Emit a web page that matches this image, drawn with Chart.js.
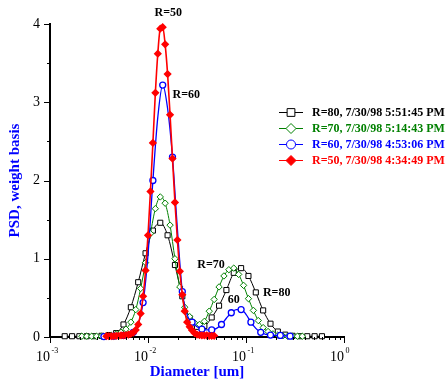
<!DOCTYPE html>
<html>
<head>
<meta charset="utf-8">
<script src="https://cdn.jsdelivr.net/npm/chart.js@4.4.0/dist/chart.umd.min.js"></script>
<style>
  html, body { margin: 0; padding: 0; background: #fff; }
</style>
</head>
<body>
<canvas id="psdChart" width="445" height="382"></canvas>
<script>
// series names, as in the legend
var seriesLabels = ['R=80, 7/30/98 5:51:45 PM', 'R=70, 7/30/98 5:14:43 PM',
                    'R=60, 7/30/98 4:53:06 PM', 'R=50, 7/30/98 4:34:49 PM'];

// R=80 (black squares)
var r80Diam = [1.413e-3, 1.679e-3, 1.995e-3, 2.371e-3, 2.818e-3, 3.350e-3, 3.981e-3, 4.732e-3, 5.623e-3,
               6.683e-3, 7.943e-3, 9.441e-3, 1.122e-2, 1.334e-2, 1.585e-2, 1.884e-2, 2.239e-2, 2.661e-2,
               3.162e-2, 3.758e-2, 4.467e-2, 5.309e-2, 6.310e-2, 7.499e-2, 8.913e-2, 0.1059, 0.1259,
               0.1496, 0.1778, 0.2113, 0.2512, 0.2985, 0.3548, 0.4217, 0.5012, 0.5957];
var r80Psd = [0.01, 0.01, 0.01, 0.01, 0.01, 0.015, 0.025, 0.05, 0.16,
              0.38, 0.70, 1.07, 1.36, 1.46, 1.30, 0.92, 0.52, 0.24,
              0.13, 0.14, 0.25, 0.40, 0.60, 0.82, 0.88, 0.78, 0.57,
              0.34, 0.17, 0.07, 0.03, 0.015, 0.01, 0.01, 0.01, 0.01];

// R=70 (green diamonds)
var r70Diam = [2.113e-3, 2.371e-3, 2.661e-3, 2.985e-3, 3.350e-3, 3.758e-3, 4.217e-3, 4.732e-3, 5.309e-3,
               5.957e-3, 6.683e-3, 7.499e-3, 8.414e-3, 9.441e-3, 1.059e-2, 1.189e-2, 1.334e-2, 1.496e-2,
               1.679e-2, 1.884e-2, 2.113e-2, 2.371e-2, 2.661e-2, 2.985e-2, 3.350e-2, 3.758e-2, 4.217e-2,
               4.732e-2, 5.309e-2, 5.957e-2, 6.683e-2, 7.499e-2, 8.414e-2, 9.441e-2, 0.1059, 0.1189,
               0.1334, 0.1496, 0.1679, 0.1884, 0.2113, 0.2371, 0.2661, 0.2985, 0.3350, 0.3758];
var r70Psd = [0.01, 0.01, 0.01, 0.01, 0.01, 0.015, 0.02, 0.04, 0.06,
              0.10, 0.19, 0.35, 0.62, 0.95, 1.32, 1.64, 1.79, 1.71,
              1.43, 1.00, 0.64, 0.38, 0.26, 0.18, 0.16, 0.20, 0.33,
              0.48, 0.64, 0.78, 0.86, 0.88, 0.80, 0.66, 0.49, 0.34,
              0.21, 0.12, 0.07, 0.04, 0.025, 0.015, 0.01, 0.01, 0.01, 0.01];

// R=60 (blue circles, marker on every second point)
var r60Diam = [3.548e-3, 3.981e-3, 4.467e-3, 5.012e-3, 5.623e-3, 6.310e-3, 7.079e-3, 7.943e-3, 8.913e-3,
               1.000e-2, 1.122e-2, 1.259e-2, 1.413e-2, 1.585e-2, 1.778e-2, 1.995e-2, 2.239e-2, 2.512e-2,
               2.818e-2, 3.162e-2, 3.548e-2, 3.981e-2, 4.467e-2, 5.012e-2, 5.623e-2, 6.310e-2, 7.079e-2,
               7.943e-2, 8.913e-2, 0.1000, 0.1122, 0.1259, 0.1413, 0.1585, 0.1778, 0.1995, 0.2239,
               0.2512, 0.2818];
var r60Psd = [0.005, 0.01, 0.01, 0.015, 0.02, 0.03, 0.06, 0.16, 0.44,
              1.05, 2.00, 2.81, 3.22, 2.92, 2.30, 1.38, 0.58, 0.28,
              0.19, 0.13, 0.10, 0.09, 0.09, 0.11, 0.16, 0.24, 0.31,
              0.35, 0.35, 0.29, 0.19, 0.11, 0.06, 0.035, 0.025, 0.02, 0.02,
              0.015, 0.01];

// R=50 (red filled markers)
var r50Diam = [3.758e-3, 3.981e-3, 4.217e-3, 4.467e-3, 4.732e-3, 5.012e-3, 5.309e-3, 5.623e-3, 5.957e-3,
               6.310e-3, 6.683e-3, 7.079e-3, 7.499e-3, 7.943e-3, 8.414e-3, 8.913e-3, 9.441e-3, 1.000e-2,
               1.059e-2, 1.122e-2, 1.189e-2, 1.259e-2, 1.334e-2, 1.413e-2, 1.496e-2, 1.585e-2, 1.679e-2,
               1.778e-2, 1.884e-2, 1.995e-2, 2.114e-2, 2.239e-2, 2.371e-2, 2.512e-2, 2.661e-2, 2.818e-2,
               2.985e-2, 3.162e-2, 3.350e-2, 3.548e-2, 3.758e-2, 3.981e-2, 4.217e-2, 4.467e-2, 4.732e-2];
var r50Psd = [0.01, 0.01, 0.01, 0.01, 0.015, 0.015, 0.02, 0.02, 0.025,
              0.03, 0.04, 0.055, 0.09, 0.16, 0.30, 0.52, 0.85, 1.30,
              1.86, 2.48, 3.12, 3.62, 3.94, 3.96, 3.74, 3.36, 2.84,
              2.28, 1.72, 1.24, 0.84, 0.54, 0.33, 0.19, 0.13, 0.085,
              0.05, 0.03, 0.025, 0.02, 0.02, 0.02, 0.015, 0.015, 0.015];

// axis ticks
var xTicks = [0.001, 0.01, 0.1, 1];
var xTickExps = ['-3', '-2', '-1', '0'];
var yTicks = [0, 1, 2, 3, 4];

// text labels placed on the plot (diameter, psd)
var noteText = ['R=50', 'R=60', 'R=70', '60', 'R=80'];
var noteDiam = [0.0161, 0.0246, 0.0439, 0.0752, 0.2056];
var notePsd = [4.14, 3.10, 0.92, 0.47, 0.56];

var serif = '"Liberation Serif", "Times New Roman", serif';
Chart.defaults.font.family = serif;

function pts(d, v) {
    return d.map(function (x, i) { return { x: x, y: v[i] }; });
}

var plotDecor = {
    id: 'plotDecor',
    afterDraw: function (chart) {
        var ctx = chart.ctx, xs = chart.scales.x, ys = chart.scales.y, a = chart.chartArea;
        ctx.save();
        ctx.strokeStyle = '#000';
        ctx.lineWidth = 1;
        // y tick marks, majors on the labelled values, minors half way
        for (var v = yTicks[0]; v <= yTicks[yTicks.length - 1]; v += 0.5) {
            var py = Math.round(ys.getPixelForValue(v)) + 0.5;
            var len = yTicks.indexOf(v) >= 0 ? 6 : 3;
            ctx.beginPath(); ctx.moveTo(a.left - len, py); ctx.lineTo(a.left, py); ctx.stroke();
        }
        // x tick marks on the log axis
        for (var i = 0; i < xTicks.length; i++) {
            for (var m = 1; m <= 9; m++) {
                if (m > 1 && i === xTicks.length - 1) break;
                var px = Math.round(xs.getPixelForValue(xTicks[i] * m)) + 0.5;
                var l2 = m === 1 ? 6 : 3;
                ctx.beginPath(); ctx.moveTo(px, a.bottom); ctx.lineTo(px, a.bottom + l2); ctx.stroke();
            }
        }
        // x tick labels 10^n
        ctx.fillStyle = '#000';
        ctx.textBaseline = 'alphabetic';
        for (var j = 0; j < xTicks.length; j++) {
            var tx = xs.getPixelForValue(xTicks[j]);
            ctx.font = '14px ' + serif;
            ctx.textAlign = 'right';
            ctx.fillText('10', tx, 360.5);
            ctx.font = '8px ' + serif;
            ctx.textAlign = 'left';
            ctx.fillText(xTickExps[j], tx + 1.5, 352.5);
        }
        // notes on the curves
        ctx.font = 'bold 12px ' + serif;
        ctx.textAlign = 'center';
        ctx.textBaseline = 'middle';
        for (var k = 0; k < noteText.length; k++) {
            ctx.fillText(noteText[k], xs.getPixelForValue(noteDiam[k]), ys.getPixelForValue(notePsd[k]));
        }
        // legend
        var order = [0, 1, 2, 3];
        order.forEach(function (n, row) {
            var ds = chart.data.datasets[n];
            var ly = 112 + row * 16;
            ctx.strokeStyle = ds.borderColor;
            ctx.lineWidth = 1;
            ctx.beginPath(); ctx.moveTo(279, ly + 0.5); ctx.lineTo(303, ly + 0.5); ctx.stroke();
            ctx.fillStyle = ds.pointBackgroundColor;
            ctx.lineWidth = 1;
            Chart.helpers.drawPoint(ctx, { pointStyle: ds.pointStyle, radius: ds.legendRadius, rotation: 0, borderWidth: 1 }, 291, ly + 0.5);
            ctx.fillStyle = ds.borderColor;
            ctx.font = 'bold 12px ' + serif;
            ctx.textAlign = 'left';
            ctx.textBaseline = 'middle';
            ctx.fillText(ds.label, 312, ly + 1);
        });
        ctx.restore();
    }
};

var ctx = document.getElementById('psdChart').getContext('2d');
var psdChart = new Chart(ctx, {
    type: 'line',
    data: {
        datasets: [{
            label: seriesLabels[0],
            data: pts(r80Diam, r80Psd),
            borderColor: '#000000',
            pointBackgroundColor: '#ffffff',
            pointBorderColor: '#000000',
            pointStyle: 'rect',
            pointRadius: 3.6,
            legendRadius: 5.5,
            borderWidth: 1,
            order: 3
        }, {
            label: seriesLabels[1],
            data: pts(r70Diam, r70Psd),
            borderColor: '#008000',
            pointBackgroundColor: '#ffffff',
            pointBorderColor: '#008000',
            pointStyle: 'rectRot',
            pointRadius: 3.2,
            legendRadius: 5,
            borderWidth: 1,
            order: 2
        }, {
            label: seriesLabels[2],
            data: pts(r60Diam, r60Psd),
            borderColor: '#0000ff',
            pointBackgroundColor: '#ffffff',
            pointBorderColor: '#0000ff',
            pointStyle: 'circle',
            pointRadius: function (c) { return c.dataIndex % 2 === 0 ? 3 : 0; },
            legendRadius: 4.5,
            borderWidth: 1.3,
            order: 1
        }, {
            label: seriesLabels[3],
            data: pts(r50Diam, r50Psd),
            borderColor: '#ff0000',
            pointBackgroundColor: '#ff0000',
            pointBorderColor: '#ff0000',
            pointStyle: 'rectRot',
            pointRadius: 3,
            legendRadius: 5,
            borderWidth: 1.6,
            order: 0
        }]
    },
    options: {
        responsive: false,
        animation: false,
        events: [],
        layout: { padding: { left: 0, right: 101, top: 24, bottom: 0 } },
        elements: {
            line: { cubicInterpolationMode: 'monotone' },
            point: { borderWidth: 1 }
        },
        datasets: { line: { clip: false } },
        plugins: { legend: { display: false }, tooltip: { enabled: false } },
        scales: {
            x: {
                type: 'logarithmic',
                min: xTicks[0],
                max: xTicks[xTicks.length - 1],
                grid: { display: false, drawTicks: false },
                border: { display: true, color: '#000', width: 2 },
                ticks: { display: false, autoSkip: false },
                title: {
                    display: true,
                    text: 'Diameter [um]',
                    color: '#0000ff',
                    font: { size: 15, weight: 'bold', family: serif },
                    padding: { top: 0, bottom: 1 }
                },
                afterFit: function (s) { s.height = 45; }
            },
            y: {
                min: yTicks[0],
                max: yTicks[yTicks.length - 1],
                grid: { display: false, drawTicks: false },
                border: { display: true, color: '#000', width: 2 },
                ticks: {
                    stepSize: 1,
                    color: '#000',
                    padding: 10,
                    font: { size: 14, family: serif },
                    callback: function (v) { return yTicks.indexOf(v) >= 0 ? String(v) : ''; }
                },
                title: {
                    display: true,
                    text: 'PSD, weight basis',
                    color: '#0000ff',
                    font: { size: 15, weight: 'bold', family: serif },
                    padding: { top: 6, bottom: 0 }
                },
                afterFit: function (s) { s.width = 50; }
            }
        }
    },
    plugins: [plotDecor]
});
</script>
</body>
</html>
